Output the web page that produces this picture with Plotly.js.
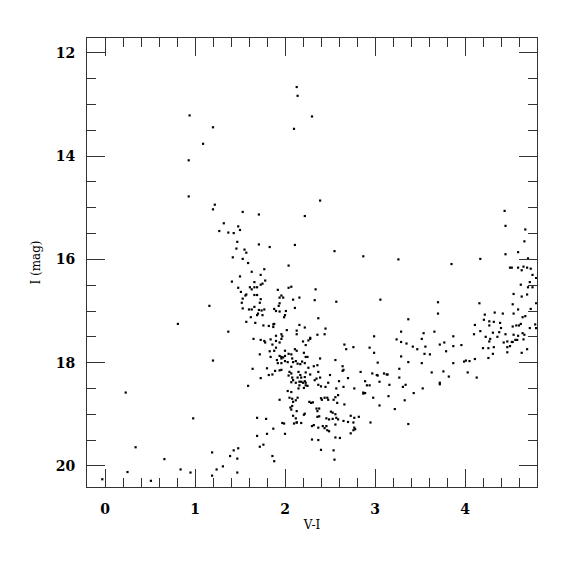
<!DOCTYPE html>
<html>
<head>
<meta charset="utf-8">
<script src="https://cdn.plot.ly/plotly-3.0.1.min.js"></script>
<style>html,body{margin:0;padding:0;background:#fff;}#chart{width:575px;height:575px;}</style>
</head>
<body>
<div id="chart"></div>
<script>
// Colour-magnitude diagram: V-I colour vs I magnitude
const vi = [
0.94,1.20,1.09,0.93,
2.13,2.14,2.30,2.10,
0.93,1.22,1.20,1.32,1.27,1.37,1.43,1.47,1.46,1.42,1.41,1.16,0.81,1.37,
1.20,0.23,0.98,0.34,1.19,0.66,1.39,1.43,0.25,0.84,0.95,1.31,1.24,1.19,-0.03,0.51,1.47,1.47,
2.39,1.53,1.71,2.22,1.48,1.50,1.71,1.83,2.11,1.55,1.57,2.55,2.87,1.53,1.59,2.04,1.77,1.63,1.50,1.73,1.78,1.66,1.75,1.73,1.61,1.66,1.69,1.48,1.63,2.07,2.04,1.92,2.34,1.51,1.57,1.56,1.66,1.69,1.96,1.94,1.98,2.16,1.53,1.73,2.09,2.33,2.57,3.06,1.52,1.72,1.94,1.93,1.66,2.11,1.53,1.60,1.63,1.71,1.74,1.77,1.88,1.90,1.94,2.01,1.70,1.69,1.75,2.00,1.99,1.62,2.37,1.57,1.67,1.76,1.82,1.87,1.88,1.87,2.16,2.22,2.45,2.02,2.13,2.13,2.36,2.44,1.90,1.96,1.97,2.99,2.28,
4.44,4.45,4.67,4.66,4.59,4.45,4.70,3.26,4.17,3.85,4.50,4.52,4.59,4.65,4.69,4.73,4.63,4.75,4.79,4.72,4.62,4.70,4.75,4.54,4.69,4.63,3.70,4.16,4.53,4.79,4.59,4.73,3.70,4.54,4.22,4.33,4.42,4.64,4.67,3.37,4.21,4.27,4.32,4.39,4.11,4.27,4.62,4.60,4.57,4.53,4.78,4.79,4.72,4.40,4.17,3.29,3.54,3.66,4.31,4.38,4.10,4.45,4.54,4.59,4.64,4.66,3.87,4.23,4.36,
3.24,3.29,3.35,3.52,3.42,3.47,3.56,3.72,3.77,3.79,3.87,3.96,3.55,3.61,3.29,3.37,3.52,3.87,3.99,4.01,4.05,4.11,4.20,4.26,4.26,4.31,4.32,4.27,4.28,4.43,4.47,4.52,4.53,4.56,4.58,4.65,4.47,4.50,4.47,4.63,4.69,3.14,3.27,3.27,3.16,3.34,3.31,3.53,3.63,3.76,3.82,3.72,3.72,4.03,4.13,3.15,3.43,3.33,3.22,3.37,
1.65,1.73,1.77,1.78,1.84,1.90,1.94,1.96,1.86,2.20,2.23,2.26,2.28,2.66,2.68,2.76,2.94,2.99,3.03,1.90,1.88,2.00,2.04,2.00,2.07,2.11,2.13,2.21,2.23,2.25,1.72,1.83,1.84,1.94,1.96,1.91,1.92,1.96,1.96,1.98,2.00,2.03,2.08,2.09,2.12,2.14,2.17,2.19,2.22,2.26,2.39,2.56,2.32,2.36,2.07,1.64,1.80,1.82,1.86,1.89,1.94,1.96,2.05,2.07,2.04,2.15,2.17,2.18,2.22,2.23,2.28,2.37,2.39,2.50,2.64,2.64,2.65,2.84,2.97,3.02,3.03,3.10,3.13,3.05,
1.73,2.08,2.09,2.07,2.14,2.12,2.16,2.18,2.20,2.22,2.23,2.23,2.25,2.21,2.16,2.15,2.33,2.35,2.37,2.40,2.45,2.48,2.57,2.60,2.65,2.70,2.77,2.89,2.91,2.94,2.87,2.87,2.89,1.59,2.03,2.07,2.14,2.12,2.08,2.09,2.05,1.94,2.27,2.29,2.31,2.40,2.41,2.44,2.47,2.48,2.54,2.56,2.58,2.59,2.66,2.98,3.05,2.08,2.06,2.07,2.13,2.35,2.36,2.38,2.51,2.53,2.56,2.22,2.21,2.36,2.38,2.09,1.69,1.79,2.12,2.13,2.46,2.49,2.53,2.57,2.59,2.65,2.70,2.73,2.77,2.82,2.76,2.77,2.78,2.76,2.95,1.97,1.99,2.10,2.13,2.18,2.30,2.32,2.37,2.42,2.44,2.46,2.47,2.49,2.56,1.87,2.73,2.00,1.80,1.69,2.56,2.61,2.30,2.37,1.76,1.72,2.40,2.54,1.48,1.86,1.88,2.55
];
const imag = [
13.21,13.44,13.76,14.08,
12.66,12.83,13.23,13.47,
14.78,14.94,15.03,15.30,15.45,15.48,15.49,15.66,15.79,15.96,16.43,16.90,17.25,17.40,
17.96,18.58,19.08,19.64,19.74,19.87,19.81,19.70,20.12,20.07,20.13,20.01,20.07,20.19,20.26,20.29,19.86,20.13,
14.86,15.08,15.13,15.16,15.36,15.43,15.71,15.76,15.72,15.81,15.87,15.84,15.94,15.99,16.07,16.12,16.19,16.24,16.33,16.30,16.41,16.44,16.47,16.49,16.54,16.54,16.54,16.55,16.58,16.53,16.55,16.59,16.58,16.63,16.68,16.70,16.69,16.69,16.70,16.74,16.74,16.74,16.76,16.77,16.78,16.79,16.82,16.78,16.84,16.84,16.85,16.90,16.92,16.94,16.95,16.97,16.97,16.98,16.99,16.97,16.96,17.00,17.01,17.00,17.05,17.08,17.08,17.08,17.12,17.12,17.14,17.21,17.23,17.28,17.29,17.26,17.25,17.31,17.27,17.32,17.34,17.37,17.38,17.45,17.46,17.45,17.48,17.45,17.49,17.49,17.52,
15.06,15.35,15.42,15.65,15.86,15.90,15.98,16.00,15.99,16.09,16.16,16.16,16.16,16.14,16.16,16.18,16.21,16.30,16.36,16.44,16.49,16.54,16.54,16.67,16.68,16.72,16.83,16.85,16.87,16.85,16.97,16.96,17.05,17.05,17.07,17.03,17.05,17.12,17.10,17.16,17.17,17.20,17.21,17.23,17.27,17.28,17.25,17.28,17.28,17.30,17.26,17.33,17.33,17.33,17.39,17.40,17.43,17.40,17.42,17.41,17.45,17.45,17.46,17.48,17.43,17.46,17.49,17.50,17.50,
17.55,17.60,17.63,17.54,17.69,17.74,17.69,17.65,17.61,17.78,17.68,17.66,17.83,17.84,17.88,17.99,18.01,18.01,17.98,17.96,17.97,17.93,17.72,17.72,17.91,17.83,17.70,17.59,17.54,17.61,17.59,17.60,17.60,17.56,17.56,17.55,17.70,17.68,17.80,17.81,17.74,18.23,18.12,18.29,18.43,18.43,18.47,18.50,18.19,18.17,18.27,18.39,18.42,18.19,18.29,18.65,18.59,18.73,18.90,19.19,
17.54,17.56,17.58,17.61,17.55,17.58,17.61,17.54,17.65,17.59,17.66,17.57,17.54,17.65,17.74,17.70,17.71,17.81,18.00,17.71,17.77,17.77,17.83,17.87,17.84,17.74,17.77,17.81,17.89,17.89,17.84,17.78,17.89,17.87,17.89,17.95,18.01,18.01,17.92,17.90,17.97,17.99,17.92,17.99,17.97,18.02,18.03,17.98,18.01,18.10,17.92,17.95,18.07,18.05,18.08,18.12,18.11,18.24,18.23,18.16,18.15,18.14,18.18,18.21,18.25,18.18,18.24,18.29,18.28,18.19,18.23,18.18,18.29,18.24,18.16,18.07,18.14,18.18,18.21,18.24,18.25,18.21,18.23,18.37,
18.30,18.29,18.34,18.38,18.29,18.39,18.37,18.37,18.39,18.36,18.39,18.44,18.45,18.49,18.44,18.50,18.34,18.31,18.43,18.46,18.47,18.39,18.50,18.36,18.47,18.30,18.50,18.36,18.44,18.44,18.58,18.60,18.59,18.45,18.55,18.57,18.68,18.73,18.70,18.76,18.68,18.72,18.76,18.78,18.77,18.69,18.72,18.68,18.68,18.72,18.72,18.67,18.78,18.63,18.81,18.68,18.83,18.84,18.87,18.91,18.94,18.89,18.94,18.89,18.95,18.97,19.00,18.99,19.01,19.05,19.04,19.03,19.07,19.09,19.08,19.16,19.08,19.10,19.09,19.07,19.10,19.13,19.15,19.03,19.07,19.05,19.16,19.26,19.29,19.31,19.16,19.17,19.18,19.18,19.16,19.17,19.23,19.21,19.26,19.23,19.27,19.23,19.31,19.33,19.20,19.28,19.37,19.38,19.38,19.42,19.45,19.46,19.49,19.50,19.59,19.63,19.69,19.70,19.66,19.81,19.91,19.88
];
const xTickVals = [0,1,2,3,4];
const yTickVals = [12,14,16,18,20];

const axisFont = {family: '"DejaVu Serif", "Liberation Serif", serif', size: 14, color: '#000', weight: 'bold'};
const titleFont = {family: '"DejaVu Serif", "Liberation Serif", serif', size: 12, color: '#000'};

const trace = {
  x: vi, y: imag, type: 'scatter', mode: 'markers',
  marker: {color: '#000', size: 2.2, symbol: 'square', line: {width: 0}},
  hoverinfo: 'skip'
};

const layout = {
  width: 575, height: 575,
  margin: {l: 87, r: 38, t: 38, b: 88, pad: 0},
  paper_bgcolor: '#fff', plot_bgcolor: '#fff',
  showlegend: false,
  xaxis: {
    range: [-0.2, 4.8], tickvals: xTickVals, ticktext: xTickVals.map(String),
    ticks: 'inside', ticklen: 18, tickwidth: 1, tickcolor: '#333',
    showline: true, linecolor: '#333', linewidth: 1, mirror: 'allticks',
    showgrid: false, zeroline: false, tickfont: axisFont, ticklabelstandoff: 9,
    minor: {dtick: 0.2, tick0: 0, ticks: 'inside', ticklen: 9, tickwidth: 1, tickcolor: '#333', showgrid: false},
    title: {text: 'V-I', font: titleFont, standoff: 4}
  },
  yaxis: {
    range: [20.41, 11.71], tickvals: yTickVals, ticktext: yTickVals.map(String),
    ticks: 'inside', ticklen: 18, tickwidth: 1, tickcolor: '#333',
    showline: true, linecolor: '#333', linewidth: 1, mirror: 'allticks',
    showgrid: false, zeroline: false, tickfont: axisFont, ticklabelstandoff: 8,
    minor: {dtick: 0.5, tick0: 0, ticks: 'inside', ticklen: 9, tickwidth: 1, tickcolor: '#333', showgrid: false},
    title: {text: 'I (mag)', font: titleFont, standoff: 12}
  }
};

Plotly.newPlot('chart', [trace], layout, {displayModeBar: false, staticPlot: true});
</script>
</body>
</html>
